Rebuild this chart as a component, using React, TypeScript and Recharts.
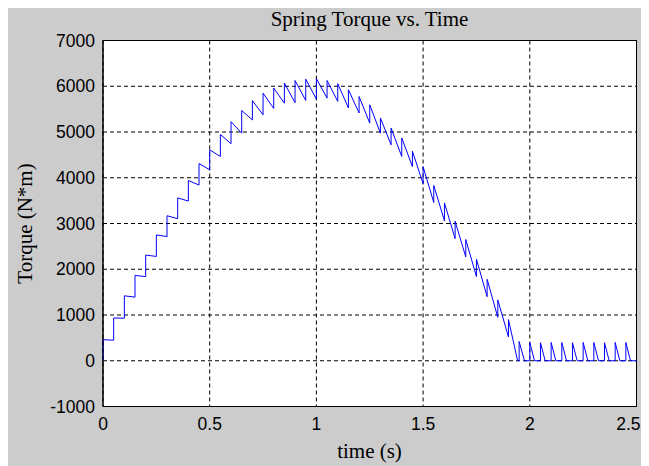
import React from 'react';
import { LineChart, Line, XAxis, YAxis, CartesianGrid, ReferenceArea } from 'recharts';

// time of each drive step (s)
const stepTimes = [
  0, 0.05, 0.1, 0.15, 0.2, 0.25, 0.3, 0.35, 0.4, 0.45,
  0.5, 0.55, 0.6, 0.65, 0.7, 0.75, 0.8, 0.85, 0.9, 0.95,
  1.0, 1.05, 1.1, 1.15, 1.2, 1.25, 1.3, 1.35, 1.4, 1.45,
  1.5, 1.55, 1.6, 1.65, 1.7, 1.75, 1.8, 1.85, 1.9, 1.95,
  2.0, 2.05, 2.1, 2.15, 2.2, 2.25, 2.3, 2.35, 2.4, 2.45,
];

// torque just before each step (N*m)
const torqueBefore = [
  0, 450, 930, 1390, 1840, 2280, 2715, 3105, 3490, 3840,
  4175, 4465, 4745, 4975, 5265, 5375, 5515, 5630, 5640, 5690,
  5720, 5740, 5670, 5525, 5415, 5195, 4975, 4720, 4465, 4245,
  3870, 3460, 3060, 2670, 2270, 1840, 1400, 950, 520, 0,
  0, 0, 0, 0, 0, 0, 0, 0, 0, 0,
];

// torque just after each step (N*m)
const torqueAfter = [
  460, 935, 1420, 1865, 2310, 2750, 3170, 3560, 3940, 4310,
  4610, 4945, 5225, 5470, 5685, 5850, 5960, 6070, 6125, 6155,
  6165, 6125, 6055, 5925, 5775, 5595, 5305, 5085, 4870, 4580,
  4240, 3830, 3450, 3050, 2650, 2220, 1780, 1330, 900, 420,
  400, 395, 400, 400, 395, 400, 400, 395, 400, 400,
];

// from this step on the spring goes slack: time it drops back to zero
const slackFromStep = 38;
const slackTimes = [1.943, 1.975, 2.022, 2.072, 2.122, 2.172, 2.222, 2.272, 2.322, 2.372, 2.422, 2.472];
const endTime = 2.5;

const xTicks = [0, 0.5, 1, 1.5, 2, 2.5];
const yTicks = [-1000, 0, 1000, 2000, 3000, 4000, 5000, 6000, 7000];

const data: { t: number; torque: number }[] = [];
stepTimes.forEach((t, i) => {
  data.push({ t, torque: torqueBefore[i] });
  data.push({ t, torque: torqueAfter[i] });
  if (i >= slackFromStep) data.push({ t: slackTimes[i - slackFromStep], torque: 0 });
});
data.push({ t: endTime, torque: 0 });

const serif = '"Liberation Serif", "Times New Roman", serif';
const sans = '"Liberation Sans", Arial, sans-serif';
const tickStyle = { fontSize: 17.5, fill: '#000', fontFamily: sans };
const labelStyle: React.CSSProperties = {
  position: 'absolute',
  width: 200,
  textAlign: 'center',
  fontFamily: serif,
  fontSize: 21,
  lineHeight: '21px',
  color: '#000',
};

// last label is kept inside the frame
const TimeTick = (props: any) => {
  const { x, y, payload } = props;
  const last = payload.value === xTicks[xTicks.length - 1];
  return (
    <text
      x={last ? x + 4 : x}
      y={y}
      dy="0.71em"
      textAnchor={last ? 'end' : 'middle'}
      fontSize={17.5}
      fontFamily={sans}
      fill="#000"
    >
      {payload.value}
    </text>
  );
};

export default function App() {
  return (
    <div style={{ position: 'relative', width: 641, height: 461, marginTop: -3, background: '#cccccc' }}>
      <LineChart width={641} height={461} data={data} margin={{ top: 35.5, right: 12.5, bottom: 0, left: 0 }}>
        <CartesianGrid fill="#fff" stroke="#000" strokeDasharray="4 3" />
        <XAxis
          type="number"
          dataKey="t"
          domain={[0, 2.5]}
          ticks={xTicks}
          height={59.5}
          tickLine={false}
          tickSize={0}
          tickMargin={11}
          axisLine={{ stroke: '#000' }}
          tick={<TimeTick />}
        />
        <YAxis
          type="number"
          domain={[-1000, 7000]}
          ticks={yTicks}
          width={95}
          tickLine={false}
          tickSize={0}
          tickMargin={8}
          axisLine={{ stroke: '#000' }}
          tick={tickStyle}
        />
        <ReferenceArea x1={0} x2={2.5} y1={-1000} y2={7000} fill="none" stroke="#000" />
        <Line
          type="linear"
          dataKey="torque"
          stroke="#0000ff"
          strokeWidth={1}
          dot={false}
          isAnimationActive={false}
        />
      </LineChart>
      <div style={{ ...labelStyle, left: 261.5, top: 3.5 }}>Spring Torque vs. Time</div>
      <div style={{ ...labelStyle, left: 261.5, top: 436 }}>time (s)</div>
      <div style={{ ...labelStyle, left: 17 - 100, top: 218.5 - 10.5, transform: 'rotate(-90deg)' }}>
        Torque (N*m)
      </div>
    </div>
  );
}
